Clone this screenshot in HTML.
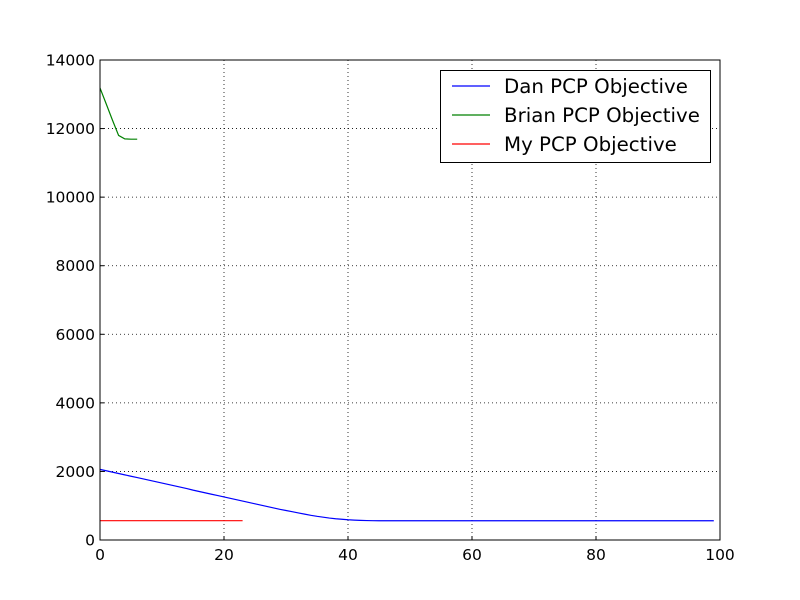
<!DOCTYPE html>
<html><head><meta charset="utf-8"><style>body{margin:0;background:#fff}svg{display:block;font-family:"DejaVu Sans","Liberation Sans",sans-serif}</style></head>
<body>
<svg id="chart" width="800" height="600">
<rect x="0" y="0" width="800" height="600" fill="#fff"/>
<g id="grid"></g><g id="series"></g><g id="axes"></g><g id="legend"></g>
</svg>
<script>
const xTicks=[0,20,40,60,80,100];
const yTicks=[0,2000,4000,6000,8000,10000,12000,14000];
const danValues=[2060,2020,1980,1940,1900,1860,1820,1780,1740,1700,1660,1620,1580,1540,1500,1455,1415,1375,1335,1295,1255,1215,1175,1135,1095,1055,1015,975,935,895,860,825,790,755,720,690,665,640,620,605,590,580,572,567,564,562,562,562,562,562,562,562,562,562,562,562,562,562,562,562,562,562,562,562,562,562,562,562,562,562,562,562,562,562,562,562,562,562,562,562,562,562,562,562,562,562,562,562,562,562,562,562,562,562,562,562,562,562,562,562];
const brianValues=[13185,12720,12250,11800,11700,11690,11690];
const myValues=[563,563,563,563,563,563,563,563,563,563,563,563,563,563,563,563,563,563,563,563,563,563,563,563];
const seriesNames=["Dan PCP Objective","Brian PCP Objective","My PCP Objective"];
const seriesColors=["#0000ff","#008000","#ff0000"];
const L=100,R=720,T=60,B=540;
const sx=v=>L+(v-0)/(100-0)*(R-L);
const sy=v=>B-(v-0)/(14000-0)*(B-T);
const NS="http://www.w3.org/2000/svg";
function mk(tag,attrs,parent){const e=document.createElementNS(NS,tag);for(const k in attrs)e.setAttribute(k,attrs[k]);parent.appendChild(e);return e;}
const grid=document.getElementById('grid'),axes=document.getElementById('axes'),series=document.getElementById('series'),legend=document.getElementById('legend');
xTicks.forEach(t=>{const x=sx(t);
 if(t>0&&t<100){const g=mk('line',{x1:x,x2:x,y1:T,y2:B,stroke:'#000','stroke-width':0.8,'stroke-dasharray':'1,3'},grid);
 
 }
 const tk=mk('line',{x1:x,x2:x,y1:B,y2:B-4,stroke:'#000'},axes);
 
 
 const tx=mk('text',{x:x,y:B+20,'text-anchor':'middle','font-size':15.5},axes);tx.textContent=t;
 
 
});
yTicks.forEach(t=>{const y=sy(t);
 if(t>0&&t<14000){const g=mk('line',{x1:L,x2:R,y1:y,y2:y,stroke:'#000','stroke-width':0.8,'stroke-dasharray':'1,3'},grid);
 
 }
 const tk=mk('line',{x1:L,x2:L+4,y1:y,y2:y,stroke:'#000'},axes);
 
 
 const tx=mk('text',{x:L-5,y:y+5.5,'text-anchor':'end','font-size':15.5},axes);tx.textContent=t;
 
 
});
const frame=mk('rect',{x:L,y:T,width:R-L,height:B-T,fill:'none',stroke:'#000','stroke-width':1},axes);


[danValues,brianValues,myValues].forEach((vals,i)=>{
 const p=mk('polyline',{points:vals.map((v,j)=>sx(j)+','+sy(v)).join(' '),fill:'none',stroke:seriesColors[i],'stroke-width':1.2},series);
 
 
});
const lb=mk('rect',{x:440.5,y:70.5,width:270,height:92,fill:'#fff',stroke:'#000'},legend);


seriesNames.forEach((n,i)=>{const y=86+i*29;
 const ln=mk('line',{x1:452,x2:490,y1:y,y2:y,stroke:seriesColors[i],'stroke-width':1.2},legend);
 
 
 const tx=mk('text',{x:504,y:y+7,'font-size':19.8},legend);tx.textContent=n;
 
 
});
</script>
</body></html>
